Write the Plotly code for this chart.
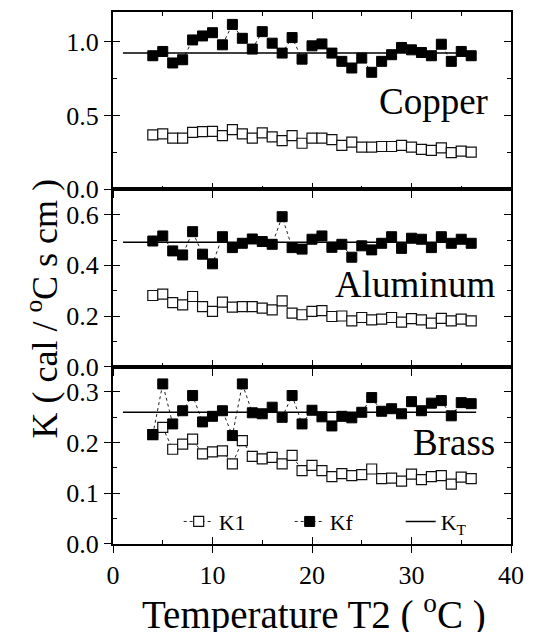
import plotly.graph_objects as go

# ---------------- data ----------------
T = list(range(4, 37))
kt_x = [1, 36.5]

cu_k1 = [0.368, 0.375, 0.346, 0.346, 0.386, 0.390, 0.392, 0.364, 0.404, 0.375, 0.346,
         0.382, 0.355, 0.330, 0.364, 0.312, 0.346, 0.346, 0.337, 0.297, 0.319, 0.285,
         0.285, 0.290, 0.290, 0.297, 0.285, 0.270, 0.263, 0.280, 0.248, 0.259, 0.252]
cu_kf = [0.904, 0.933, 0.855, 0.877, 1.011, 1.038, 1.060, 0.978, 1.116, 1.022, 0.949,
         1.067, 0.989, 0.922, 1.027, 0.881, 0.971, 0.984, 0.922, 0.866, 0.821, 0.888,
         0.792, 0.866, 0.911, 0.960, 0.944, 0.926, 0.904, 0.982, 0.866, 0.933, 0.904]
cu_kt = 0.922

al_k1 = [0.281, 0.286, 0.253, 0.244, 0.277, 0.237, 0.218, 0.255, 0.235, 0.237, 0.237,
         0.231, 0.224, 0.260, 0.211, 0.205, 0.218, 0.221, 0.198, 0.200, 0.181, 0.194,
         0.185, 0.188, 0.194, 0.176, 0.190, 0.185, 0.172, 0.191, 0.181, 0.188, 0.181]
al_kf = [0.496, 0.516, 0.457, 0.441, 0.533, 0.444, 0.406, 0.513, 0.470, 0.487, 0.504,
         0.494, 0.483, 0.592, 0.470, 0.464, 0.503, 0.516, 0.471, 0.483, 0.432, 0.477,
         0.461, 0.487, 0.513, 0.467, 0.507, 0.503, 0.470, 0.513, 0.487, 0.503, 0.487]
al_kt = 0.491

br_k1 = [0.216, 0.230, 0.187, 0.197, 0.207, 0.178, 0.182, 0.184, 0.158, 0.204, 0.173,
         0.168, 0.171, 0.158, 0.175, 0.145, 0.155, 0.145, 0.133, 0.139, 0.135, 0.137,
         0.148, 0.129, 0.130, 0.124, 0.138, 0.127, 0.133, 0.135, 0.118, 0.132, 0.129]
br_kf = [0.216, 0.316, 0.237, 0.263, 0.293, 0.241, 0.252, 0.263, 0.214, 0.316, 0.259,
         0.257, 0.270, 0.250, 0.293, 0.237, 0.264, 0.251, 0.233, 0.252, 0.249, 0.260,
         0.289, 0.262, 0.267, 0.257, 0.281, 0.263, 0.278, 0.283, 0.253, 0.279, 0.277]
br_kt = 0.260

panel_names = ["Brass", "Aluminum", "Copper"]
panel_k1 = [br_k1, al_k1, cu_k1]
panel_kf = [br_kf, al_kf, cu_kf]
panel_kt = [br_kt, al_kt, cu_kt]
panel_yrange = [[0, 0.35], [0, 0.70], [0, 1.20]]
panel_dtick = [0.1, 0.2, 0.5]
panel_label_pos = [(38.6, 0.200), (38.7, 0.325), (37.9, 0.595)]

FONT = "Liberation Serif, Times New Roman, serif"
fig = go.Figure()

for i in range(3):
    xa = "x" if i == 0 else f"x{i+1}"
    ya = "y" if i == 0 else f"y{i+1}"
    show = (i == 0)
    fig.add_trace(go.Scatter(
        x=T, y=panel_k1[i], xaxis=xa, yaxis=ya, mode="lines+markers", name="K1",
        showlegend=show, legendrank=1,
        line=dict(color="#222", width=1, dash="dot"),
        marker=dict(symbol="square", size=10, color="white",
                    line=dict(color="#111", width=1.2))))
    fig.add_trace(go.Scatter(
        x=T, y=panel_kf[i], xaxis=xa, yaxis=ya, mode="lines+markers", name="Kf",
        showlegend=show, legendrank=2,
        line=dict(color="#222", width=1, dash="dot"),
        marker=dict(symbol="square", size=10, color="black",
                    line=dict(color="black", width=1))))
    # K_T line drawn on the overlay axes (same ranges) so that they are rendered
    fig.add_trace(go.Scatter(
        x=kt_x, y=[panel_kt[i]] * len(kt_x), xaxis=f"x{i+4}", yaxis=f"y{i+4}",
        mode="lines", name="K<sub>T</sub>", showlegend=show, legendrank=3,
        line=dict(color="black", width=1.5)))

# page body has an 8px offset: compensate in the margins
layout = dict(
    width=542, height=632,
    margin=dict(l=105, r=39, t=2, b=96),
    paper_bgcolor="white", plot_bgcolor="white",
    font=dict(family=FONT, color="black", size=26),
    showlegend=True,
    legend=dict(orientation="h", x=0.165, y=0.042, xanchor="left", yanchor="middle",
                bgcolor="rgba(0,0,0,0)", font=dict(size=22, family=FONT),
                entrywidth=66, entrywidthmode="pixels", traceorder="normal",
                tracegroupgap=0),
)

annotations = []
for i in range(3):
    n = "" if i == 0 else str(i + 1)
    dom = [i / 3, (i + 1) / 3]
    layout[f"xaxis{n}"] = dict(
        domain=[0, 1], range=[0, 40], anchor=f"y{n}", showline=True, linecolor="black",
        linewidth=1.5, mirror=("ticks" if i == 2 else True), ticks="inside", ticklen=7,
        tickwidth=1.3, tickcolor="black", dtick=10, tick0=0,
        minor=dict(dtick=5, ticks="inside", ticklen=4, tickwidth=1.2, tickcolor="black"),
        showticklabels=False, showgrid=False, zeroline=False)
    layout[f"yaxis{n}"] = dict(
        domain=dom, range=panel_yrange[i], anchor=f"x{n}", showline=True, linecolor="black",
        linewidth=1.5, mirror="ticks", ticks="inside", ticklen=7, tickwidth=1.3,
        tickcolor="black", dtick=panel_dtick[i], tick0=0,
        minor=dict(dtick=panel_dtick[i] / 2, ticks="inside", ticklen=4, tickwidth=1.2,
                   tickcolor="black"),
        showticklabels=False, showgrid=False, zeroline=False)
    layout[f"xaxis{i+4}"] = dict(
        overlaying=f"x{n}", anchor=f"y{i+4}", range=[0, 40], side="bottom",
        ticks="outside", ticklen=8, tickwidth=1.3, tickcolor="black", dtick=10, tick0=0,
        showticklabels=(i == 0), tickfont=dict(size=26, family=FONT),
        showline=False, showgrid=False, zeroline=False)
    layout[f"yaxis{i+4}"] = dict(
        overlaying=f"y{n}", anchor=f"x{i+4}", range=panel_yrange[i], side="left",
        ticks="outside", ticklen=8, tickwidth=1.3, tickcolor="black",
        dtick=panel_dtick[i], tick0=0, tickformat=".1f",
        showticklabels=True, tickfont=dict(size=26, family=FONT),
        showline=False, showgrid=False, zeroline=False)
    lx, ly = panel_label_pos[i]
    annotations.append(dict(
        x=lx, y=ly, xref=f"x{n}", yref=f"y{n}", text=panel_names[i], showarrow=False,
        xanchor="right", yanchor="middle", font=dict(size=37, family=FONT)))

annotations.append(dict(
    x=-0.178, y=0.443, xref="paper", yref="paper", text="K ( cal / <sup>o</sup>C s cm )",
    textangle=-90, showarrow=False, xanchor="center", yanchor="middle",
    font=dict(size=36, family=FONT)))
annotations.append(dict(
    x=0.505, y=-0.128, xref="paper", yref="paper", text="Temperature T2 ( <sup>o</sup>C )",
    showarrow=False, xanchor="center", yanchor="middle", font=dict(size=39, family=FONT)))
layout["annotations"] = annotations

fig.update_layout(**layout)
fig.write_html("out.html")
